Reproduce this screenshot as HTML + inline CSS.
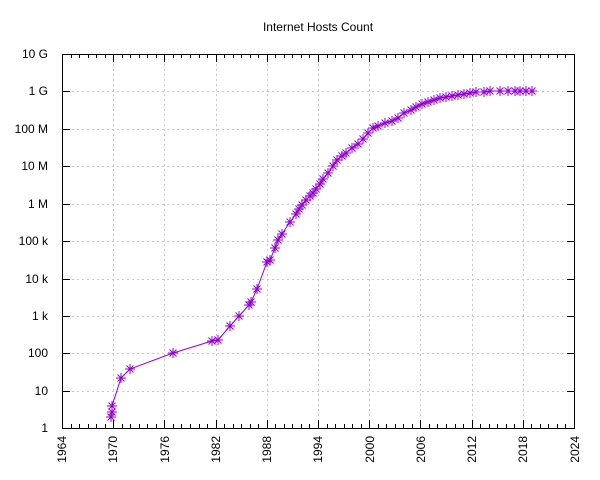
<!DOCTYPE html>
<html><head><meta charset="utf-8"><style>body{margin:0;background:#fff}svg{display:block;font-family:"Liberation Sans",sans-serif}</style></head>
<body>
<svg width="600" height="480" viewBox="0 0 600 480" xmlns="http://www.w3.org/2000/svg">
<defs><symbol id="m" overflow="visible"><path d="M-5,0H5M0,-5V5M-3.5,-3.5L3.5,3.5M-3.5,3.5L3.5,-3.5" stroke="#9400d3" stroke-width="1"/></symbol></defs>
<text x="318" y="31" font-size="12" text-anchor="middle">Internet Hosts Count</text>
<g id="grid" stroke="#c8c8c8" stroke-dasharray="2,3" stroke-width="1"></g>
<g id="ax" stroke="#000" stroke-width="1" fill="none">
<rect x="62.5" y="54.5" width="512" height="374"/>
</g>
<g font-size="12" text-anchor="end">
<text x="48" y="432">1</text><text x="48" y="395">10</text><text x="48" y="357">100</text><text x="48" y="320">1 k</text><text x="48" y="283">10 k</text><text x="48" y="245">100 k</text><text x="48" y="208">1 M</text><text x="48" y="170">10 M</text><text x="48" y="133">100 M</text><text x="48" y="95">1 G</text><text x="48" y="58">10 G</text>
</g>
<g font-size="12" text-anchor="end">
<text transform="translate(66,436) rotate(-90)">1964</text><text transform="translate(117,436) rotate(-90)">1970</text><text transform="translate(169,436) rotate(-90)">1976</text><text transform="translate(220,436) rotate(-90)">1982</text><text transform="translate(271,436) rotate(-90)">1988</text><text transform="translate(322,436) rotate(-90)">1994</text><text transform="translate(374,436) rotate(-90)">2000</text><text transform="translate(425,436) rotate(-90)">2006</text><text transform="translate(476,436) rotate(-90)">2012</text><text transform="translate(527,436) rotate(-90)">2018</text><text transform="translate(579,436) rotate(-90)">2024</text>
</g>
<g id="d"></g>
<script>
var ns="http://www.w3.org/2000/svg";
function path(par,d){var e=document.createElementNS(ns,"path");e.setAttribute("d",d);par.appendChild(e);}
var gd="",ad="",ys=[428.5,391.5,353.5,316.5,279.5,241.5,204.5,166.5,129.5,91.5];
ys.forEach(function(y,i){if(i>0)gd+="M62,"+y+"H575";ad+="M62,"+y+"h8M575,"+y+"h-8";});
for(var k=0;k<=60;k++){var x=Math.round(62+k*512/60)+0.5;
 if(k%6==0){if(k>0&&k<60)gd+="M"+x+",54V428";ad+="M"+x+",428v-8M"+x+",54v8";}
 else{ad+="M"+x+",428v-4M"+x+",54v4";}}
path(document.getElementById("grid"),gd);path(document.getElementById("ax"),ad);
var p=[[111,417],[112,412],[112,406],[121,378],[130,369],[173,353],[212,341],[218,340],[230,326],[239,316],[249,305],[251,302],[257,289],[267,262],[270,260],[275,248],[278,240],[282,234],[290,222],[296,214],[299,209],[302,205],[306,200],[310,196],[313,193],[316,189],[320,184],[323,179],[328,173],[333,166],[337,160],[342,156],[346,153],[352,148],[358,144],[363,139],[368,133],[373,128],[378,126],[385,123],[392,121],[398,118],[404,113],[411,110],[416,107],[422,104],[428,102],[434,100],[440,98],[446,97],[452,96],[458,95],[464,94],[470,93],[476,92],[484,92],[490,91],[500,91],[508,91],[515,91],[520,91],[526,91],[532,91]];
var g=document.getElementById("d");
var pl=document.createElementNS(ns,"polyline");pl.setAttribute("points",p.map(function(a){return a.join(",")}).join(" "));pl.setAttribute("fill","none");pl.setAttribute("stroke","#9400d3");g.appendChild(pl);
p.forEach(function(a){var u=document.createElementNS(ns,"use");u.setAttribute("href","#m");u.setAttribute("x",a[0]);u.setAttribute("y",a[1]);g.appendChild(u);});
</script>
</svg>
</body></html>
